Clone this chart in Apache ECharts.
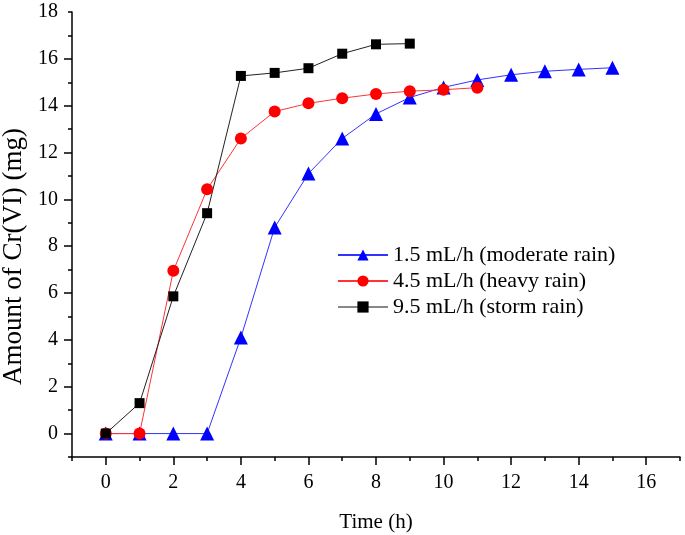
<!DOCTYPE html>
<html><head><meta charset="utf-8">
<script src="https://cdn.jsdelivr.net/npm/echarts@6/dist/echarts.min.js"></script>
<style>html,body{margin:0;padding:0;background:#fff}#c{width:685px;height:535px}</style>
</head><body><div id="c"></div>
<script>
const timeModerate = [0,1,2,3,4,5,6,7,8,9,10,11,12,13,14,15];
const moderate = [0,0,0,0,4.1,8.8,11.1,12.6,13.65,14.35,14.78,15.1,15.32,15.47,15.55,15.62];
const timeHeavy = [0,1,2,3,4,5,6,7,8,9,10,11];
const heavy = [0,0,6.95,10.43,12.6,13.75,14.1,14.32,14.5,14.62,14.68,14.77];
const timeStorm = [0,1,2,3,4,5,6,7,8,9];
const storm = [0,1.3,5.86,9.41,15.27,15.4,15.6,16.22,16.62,16.65];
const xLabels = [0,2,4,6,8,10,12,14,16];
const yLabels = [0,2,4,6,8,10,12,14,16,18];
const names = ['1.5 mL/h (moderate rain)','4.5 mL/h (heavy rain)','9.5 mL/h (storm rain)'];

const font = 'Liberation Serif, Times New Roman, serif';
const pair = (xs, ys) => xs.map((x,i)=>[x, ys[i]]);
const axisLine = {show:true, onZero:false, lineStyle:{color:'#000', width:1.5}};
const txt = (s) => ({fontFamily:font, fontSize:s, color:'#000'});
const chart = echarts.init(document.getElementById('c'));
chart.setOption({
  animation:false,
  backgroundColor:'#fff',
  grid:{left:72, right:5, top:12, bottom:78, containLabel:false, outerBoundsMode:'none'},
  legend:{
    orient:'vertical', left:332, top:239, itemGap:4, itemWidth:50, itemHeight:14,
    textStyle:txt(22),
    data:[
      {name:names[0]},
      {name:names[1]},
      {name:names[2], lineStyle:{color:'#888'}}
    ]
  },
  xAxis:{type:'value', min:-1, max:17, interval:2,
     name:'Time (h)', nameLocation:'middle', nameGap:55, nameTextStyle:txt(21),
     axisLine:axisLine, splitLine:{show:false}, minorSplitLine:{show:false},
     axisTick:{show:true, length:4, lineStyle:{color:'#000', width:1.5}},
     minorTick:{show:true, splitNumber:2, length:8, lineStyle:{color:'#000', width:1.5}},
     axisLabel:Object.assign({margin:16, customValues:xLabels, showMinLabel:true, showMaxLabel:true}, txt(20))},
  yAxis:{type:'value', min:-1, max:18, interval:2,
     name:'Amount of Cr(VI) (mg)', nameLocation:'middle', nameGap:44,
     nameTextStyle:Object.assign({padding:[0,44,0,0]}, txt(27)),
     axisLine:axisLine, splitLine:{show:false}, minorSplitLine:{show:false},
     axisTick:{show:true, length:4, lineStyle:{color:'#000', width:1.5}},
     minorTick:{show:true, splitNumber:2, length:8, lineStyle:{color:'#000', width:1.5}},
     axisLabel:Object.assign({margin:14, customValues:yLabels, showMinLabel:true, showMaxLabel:true}, txt(20))},
  series:[
    {name:names[0], type:'line', data:pair(timeModerate, moderate), symbol:'triangle', symbolSize:14,
     itemStyle:{color:'#0000ff'}, lineStyle:{color:'#3333ff', width:1}},
    {name:names[1], type:'line', data:pair(timeHeavy, heavy), symbol:'circle', symbolSize:12,
     itemStyle:{color:'#ff0000'}, lineStyle:{color:'#ff3333', width:1}},
    {name:names[2], type:'line', data:pair(timeStorm, storm), symbol:'rect', symbolSize:10,
     itemStyle:{color:'#000'}, lineStyle:{color:'#222', width:1}}
  ]
});
</script></body></html>
